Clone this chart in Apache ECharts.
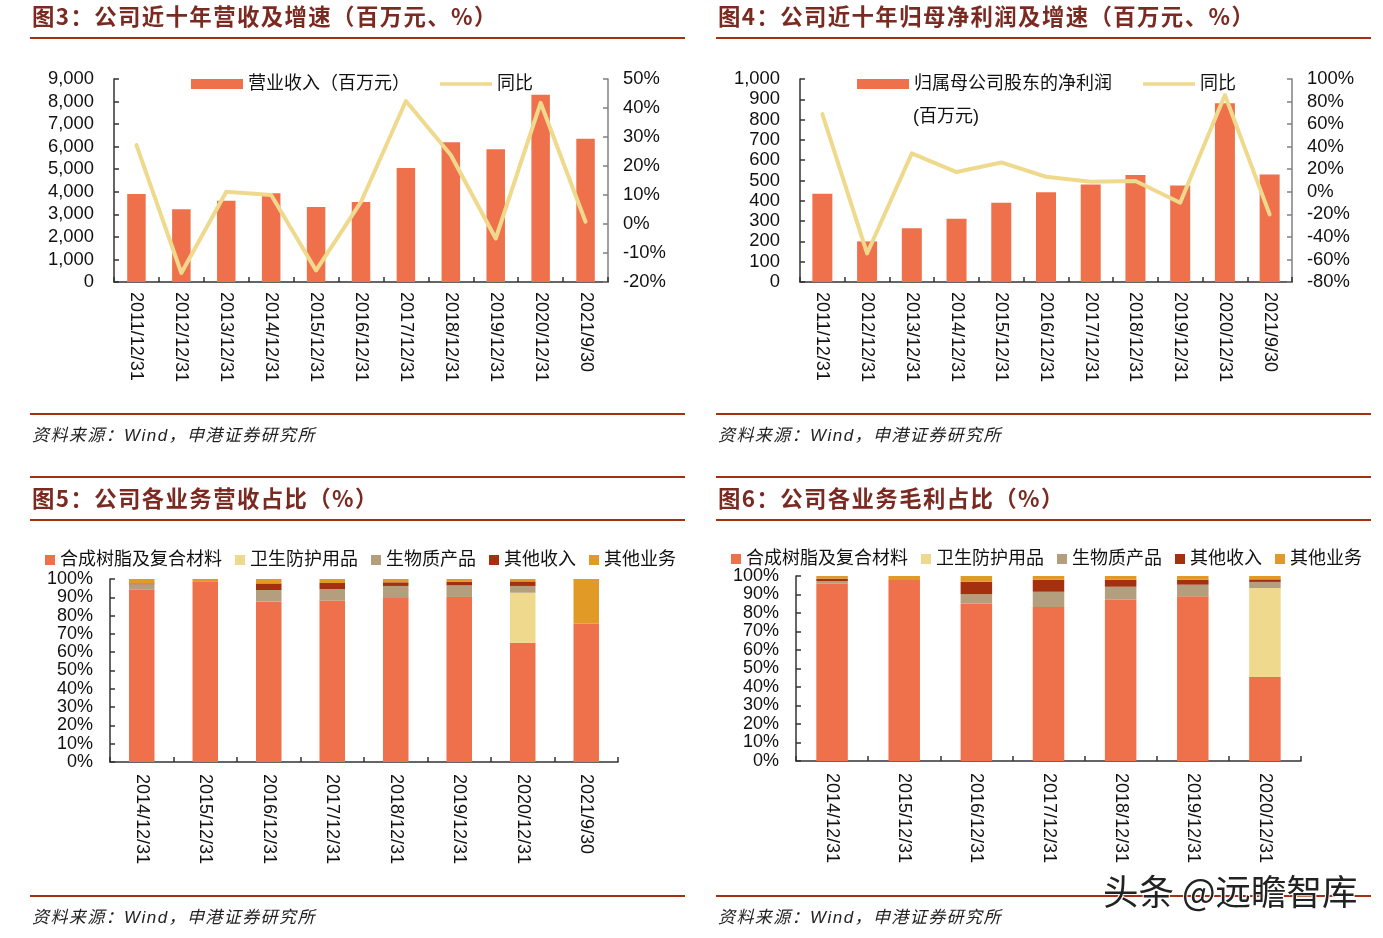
<!DOCTYPE html>
<html>
<head>
<meta charset="utf-8">
<title>公司业绩图表</title>
<script src="https://cdn.jsdelivr.net/npm/echarts@6/dist/echarts.min.js"></script>
<style>
html,body{margin:0;padding:0;background:#fff;}
#chart{width:1383px;height:938px;}
</style>
</head>
<body>
<div id="chart"></div>
<script>
// fig 3 / fig 4
var years11=['2011/12/31','2012/12/31','2013/12/31','2014/12/31','2015/12/31','2016/12/31','2017/12/31','2018/12/31','2019/12/31','2020/12/31','2021/9/30'];
var revenue=[3900,3230,3600,3930,3330,3550,5050,6200,5880,8300,6350];
var revenueYoy=[27.2,-16.9,11.1,10,-16,7.6,42.4,23.8,-5,41.8,0.8];
var profit=[435,200,265,312,390,442,480,527,475,880,530];
var profitYoy=[68.9,-54.7,34,17.5,26,13.3,8.9,9.5,-9.7,85.8,-20];

// fig 5, share of revenue
var years8=['2014/12/31','2015/12/31','2016/12/31','2017/12/31','2018/12/31','2019/12/31','2020/12/31','2021/9/30'];
var revResin=[94.2,98.4,87.6,88.2,89.6,90.2,65.1,75.6];
var revHygiene=[0,0,0,0,0,0,27.4,0];
var revBio=[2.9,0,6.4,6.3,6.6,6.3,3.7,0];
var revIncome=[0.5,0,3.6,3.3,2,1.9,2.5,0];
var revOther=[2.4,1.6,2.4,2.2,1.8,1.6,1.3,24.4];

// fig 6, share of gross profit
var years7=['2014/12/31','2015/12/31','2016/12/31','2017/12/31','2018/12/31','2019/12/31','2020/12/31'];
var gpResin=[95.9,97.8,85.2,83.2,87.2,89,45.4];
var gpHygiene=[0,0,0,0,0,0,48.1];
var gpBio=[1.4,0,4.9,8.3,7,6.3,3.3];
var gpIncome=[1.3,0,6.8,6.5,3.8,2.7,1.4];
var gpOther=[1.4,2.2,3.1,2,2,2,1.8];

var partNames=['合成树脂及复合材料','卫生防护用品','生物质产品','其他收入','其他业务'];
var partColors=['#EF714C','#EFD98C','#B39E7D','#A5300F','#E29A27'];
var titles=['图3：公司近十年营收及增速（百万元、%）','图4：公司近十年归母净利润及增速（百万元、%）','图5：公司各业务营收占比（%）','图6：公司各业务毛利占比（%）'];
var source='资料来源：Wind，申港证券研究所';

var FONT='"Liberation Sans","Noto Sans CJK SC",sans-serif';
var RED='#A5300F';
// thin bar inside a 52x10 box, the two empty moves keep the box size
var LINE_ICON='path://M0,0L0,0M0,3.2L52,3.2L52,6.8L0,6.8ZM52,10L52,10';

function spaced(s){
	return s.split('').join('\u200a');
}

function head(text,x,y){
	return {text:spaced(text),left:x,top:y,padding:0,textStyle:{fontFamily:'"Noto Sans CJK SC"',fontWeight:'bold',fontSize:22.4,color:'#7A2A20'}};
}
function foot(x,y){
	return {text:spaced(source),left:x,top:y,padding:0,textStyle:{fontFamily:FONT,fontStyle:'italic',fontWeight:'normal',fontSize:17,color:'#222'}};
}
function rule(x,y){
	return {type:'rect',shape:{x:x,y:y,width:655,height:2},style:{fill:RED},silent:true};
}

function xAxis(grid,cats,margin){
	return {type:'category',gridIndex:grid,data:cats,
		axisLine:{lineStyle:{color:'#333',width:1.5}},
		axisTick:{show:true,inside:true,length:5,lineStyle:{color:'#333',width:1.5}},
		axisLabel:{rotate:-90,interval:0,margin:margin,padding:[7,0,0,0],fontFamily:FONT,fontSize:18,color:'#111'},
		splitLine:{show:false}};
}
function leftAxis(grid,max,step,fmt,margin,size){
	return {type:'value',gridIndex:grid,min:0,max:max,interval:step,
		axisLine:{show:true,lineStyle:{color:'#333',width:1.5}},
		axisTick:{show:true,inside:true,length:5,lineStyle:{color:'#333',width:1.5}},
		axisLabel:{formatter:fmt,margin:margin,padding:[3,0,0,0],fontFamily:FONT,fontSize:size,color:'#111'},
		splitLine:{show:false}};
}
function rightAxis(grid,min,max,step,margin){
	return {type:'value',gridIndex:grid,position:'right',min:min,max:max,interval:step,
		axisLine:{show:true,lineStyle:{color:'#808080',width:1.5}},
		axisTick:{show:true,inside:true,length:5,lineStyle:{color:'#808080',width:1.5}},
		axisLabel:{formatter:'{value}%',margin:margin,padding:[3,0,0,0],align:'left',fontFamily:FONT,fontSize:18.4,color:'#111'},
		splitLine:{show:false}};
}
function thousands(v){
	return v.toLocaleString('en-US');
}

function stackSeries(axisIdx,yIdx,width,stackName,rows){
	return rows.map(function(vals,i){
		return {name:partNames[i],type:'bar',stack:stackName,xAxisIndex:axisIdx,yAxisIndex:yIdx,
			barWidth:width,data:vals,itemStyle:{color:partColors[i]},silent:true};
	});
}
function comboSeries(barName,barVals,lineVals,xIdx,yIdx,yIdx2,width){
	return [
		{name:barName,type:'bar',xAxisIndex:xIdx,yAxisIndex:yIdx,barWidth:width,data:barVals,itemStyle:{color:partColors[0]},silent:true},
		{name:'同比',type:'line',xAxisIndex:xIdx,yAxisIndex:yIdx2,data:lineVals,symbol:'none',z:5,silent:true,
			lineStyle:{color:partColors[1],width:4,cap:'round',join:'round'},itemStyle:{color:partColors[1]}}
	];
}
function legend(names,x,y,gap,w){
	return {left:x,top:y,padding:0,itemGap:gap,itemWidth:w,itemHeight:10,selectedMode:false,
		data:names.map(function(n){
			if(n=='同比'){
				return {name:n,icon:LINE_ICON,itemStyle:{color:partColors[1]},lineStyle:{width:0}};
			}
			return {name:n,icon:'rect'};
		}),
		textStyle:{fontFamily:FONT,fontSize:18,color:'#111'}};
}

var rev='营业收入（百万元）';
var pro='归属母公司股东的净利润';

var option={
	animation:false,
	backgroundColor:'#fff',
	title:[
		head(titles[0],32,5),head(titles[1],718,5),head(titles[2],32,487),head(titles[3],718,487),
		foot(32,428),foot(718,428),foot(32,910),foot(718,910)
	],
	grid:[
		{left:114,top:79,width:494,height:203},
		{left:800,top:79,width:492,height:203},
		{left:110,top:579,width:508,height:183},
		{left:796,top:576,width:505,height:185}
	],
	legend:[
		legend([rev,'同比'],191,75,30,52),
		legend([pro,'同比'],857,75,31,52),
		legend(partNames,45,551,13,10),
		legend(partNames,731,550,13,10)
	],
	xAxis:[xAxis(0,years11,10),xAxis(1,years11,10),xAxis(2,years8,12),xAxis(3,years7,12)],
	yAxis:[
		leftAxis(0,9000,1000,thousands,20,18.4),
		rightAxis(0,-20,50,10,15),
		leftAxis(1,1000,100,thousands,20,18.4),
		rightAxis(1,-80,100,20,15),
		leftAxis(2,100,10,'{value}%',17,18),
		leftAxis(3,100,10,'{value}%',17,18)
	],
	series:[].concat(
		comboSeries(rev,revenue,revenueYoy,0,0,1,18.5),
		comboSeries(pro,profit,profitYoy,1,2,3,20),
		stackSeries(2,4,25.5,'rev',[revResin,revHygiene,revBio,revIncome,revOther]),
		stackSeries(3,5,31.5,'gp',[gpResin,gpHygiene,gpBio,gpIncome,gpOther])
	),
	graphic:[
		rule(30,37),rule(716,37),
		rule(30,413),rule(716,413),
		rule(30,476),rule(716,476),
		rule(30,519),rule(716,519),
		rule(30,895),rule(716,895),
		{type:'text',x:913,y:108,silent:true,style:{text:'(百万元)',fontFamily:FONT,fontSize:18,fill:'#111'}},
		{type:'text',x:1103,y:874,z:20,silent:true,style:{text:'头条 @远瞻智库',fontFamily:'"Noto Sans CJK SC"',fontSize:35.5,fill:'#222',stroke:'#fff',lineWidth:2}}
	]
};

var chart=echarts.init(document.getElementById('chart'));
chart.setOption(option);
</script>
</body>
</html>
